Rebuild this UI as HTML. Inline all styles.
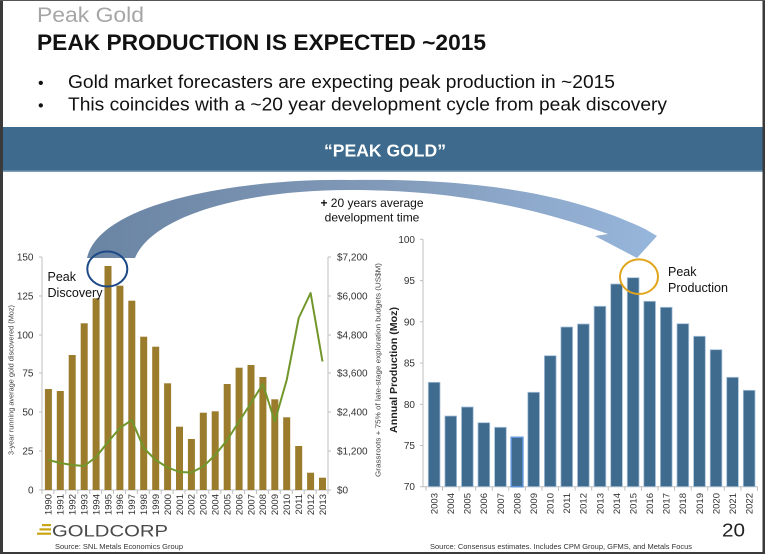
<!DOCTYPE html>
<html><head><meta charset="utf-8"><style>
html,body{margin:0;padding:0;background:#fff;}
svg{display:block;font-family:"Liberation Sans",Arial,sans-serif;}
</style></head><body>
<svg width="765" height="554" viewBox="0 0 765 554" xmlns="http://www.w3.org/2000/svg">
<defs>
<linearGradient id="ag" x1="87" y1="0" x2="657" y2="0" gradientUnits="userSpaceOnUse">
<stop offset="0" stop-color="#6a84a3"/><stop offset="0.5" stop-color="#8199b8"/><stop offset="1" stop-color="#97b6db"/>
</linearGradient>
</defs>
<rect x="0" y="0" width="765" height="554" fill="#fff"/>
<!-- frame -->
<rect x="0" y="0" width="3" height="554" fill="#3a3a3a"/>
<rect x="762.5" y="0" width="2.5" height="554" fill="#3a3a3a"/>
<rect x="0" y="0" width="765" height="1" fill="#555"/>
<rect x="0" y="552" width="765" height="2" fill="#3a3a3a"/>

<!-- header -->
<text x="37" y="22" font-size="21" fill="#a6a6a6" textLength="107" lengthAdjust="spacingAndGlyphs">Peak Gold</text>
<text x="37" y="50" font-size="22" font-weight="bold" fill="#111" textLength="449" lengthAdjust="spacingAndGlyphs">PEAK PRODUCTION IS EXPECTED ~2015</text>
<text x="38" y="88" font-size="16" fill="#111">•</text>
<text x="68" y="88" font-size="18" fill="#111" textLength="547" lengthAdjust="spacingAndGlyphs">Gold market forecasters are expecting peak production in ~2015</text>
<text x="38" y="110.5" font-size="16" fill="#111">•</text>
<text x="68" y="110.5" font-size="18" fill="#111" textLength="599" lengthAdjust="spacingAndGlyphs">This coincides with a ~20 year development cycle from peak discovery</text>

<!-- band -->
<rect x="3" y="127" width="759.5" height="44" fill="#3e6b8d"/>
<rect x="3" y="170.5" width="759.5" height="1.5" fill="#7f9fb9"/>
<text x="385" y="156.5" font-size="17.5" font-weight="bold" fill="#fff" text-anchor="middle" textLength="122" lengthAdjust="spacingAndGlyphs">“PEAK GOLD”</text>

<!-- arrow -->
<path d="M 87,258 C 100,200 250,178 350,180 C 480,178 575,195 645,229 L 657,236 L 637,258 L 595,236 L 608,234 C 530,206 450,190 350,190 C 240,190 152,217 135,258 Z" fill="url(#ag)"/>
<text x="372" y="207" font-size="12" fill="#111" text-anchor="middle"><tspan font-weight="bold">+</tspan> 20 years average</text>
<text x="372" y="221.5" font-size="12" fill="#111" text-anchor="middle">development time</text>

<!-- LEFT CHART -->
<g stroke="#bfbfbf" stroke-width="1" fill="none">
<line x1="42" y1="257" x2="42" y2="490"/>
<line x1="328" y1="257" x2="328" y2="490"/>
<line x1="42" y1="490" x2="328" y2="490"/>
<line x1="39" y1="257" x2="42" y2="257"/><line x1="39" y1="296" x2="42" y2="296"/><line x1="39" y1="335" x2="42" y2="335"/><line x1="39" y1="373" x2="42" y2="373"/><line x1="39" y1="412" x2="42" y2="412"/><line x1="39" y1="451" x2="42" y2="451"/><line x1="39" y1="490" x2="42" y2="490"/>
<line x1="328" y1="257" x2="331" y2="257"/><line x1="328" y1="296" x2="331" y2="296"/><line x1="328" y1="335" x2="331" y2="335"/><line x1="328" y1="373" x2="331" y2="373"/><line x1="328" y1="412" x2="331" y2="412"/><line x1="328" y1="451" x2="331" y2="451"/><line x1="328" y1="490" x2="331" y2="490"/>
</g>
<g stroke="#bfbfbf" stroke-width="1">
<line x1="42" y1="490" x2="42" y2="494"/><line x1="53.9" y1="490" x2="53.9" y2="494"/><line x1="65.8" y1="490" x2="65.8" y2="494"/><line x1="77.8" y1="490" x2="77.8" y2="494"/><line x1="89.7" y1="490" x2="89.7" y2="494"/><line x1="101.6" y1="490" x2="101.6" y2="494"/><line x1="113.5" y1="490" x2="113.5" y2="494"/><line x1="125.4" y1="490" x2="125.4" y2="494"/><line x1="137.3" y1="490" x2="137.3" y2="494"/><line x1="149.3" y1="490" x2="149.3" y2="494"/><line x1="161.2" y1="490" x2="161.2" y2="494"/><line x1="173.1" y1="490" x2="173.1" y2="494"/><line x1="185" y1="490" x2="185" y2="494"/><line x1="196.9" y1="490" x2="196.9" y2="494"/><line x1="208.8" y1="490" x2="208.8" y2="494"/><line x1="220.8" y1="490" x2="220.8" y2="494"/><line x1="232.7" y1="490" x2="232.7" y2="494"/><line x1="244.6" y1="490" x2="244.6" y2="494"/><line x1="256.5" y1="490" x2="256.5" y2="494"/><line x1="268.4" y1="490" x2="268.4" y2="494"/><line x1="280.3" y1="490" x2="280.3" y2="494"/><line x1="292.3" y1="490" x2="292.3" y2="494"/><line x1="304.2" y1="490" x2="304.2" y2="494"/><line x1="316.1" y1="490" x2="316.1" y2="494"/><line x1="328" y1="490" x2="328" y2="494"/>
</g>
<g font-size="10" fill="#333" text-anchor="end">
<text x="33.5" y="260.5">150</text><text x="33.5" y="299.5">125</text><text x="33.5" y="338.5">100</text><text x="33.5" y="376.5">75</text><text x="33.5" y="415.5">50</text><text x="33.5" y="454.5">25</text><text x="33.5" y="493.5">0</text>
</g>
<g font-size="10" fill="#333">
<text x="337" y="260.5">$7,200</text><text x="337" y="299.5">$6,000</text><text x="337" y="338.5">$4,800</text><text x="337" y="376.5">$3,600</text><text x="337" y="415.5">$2,400</text><text x="337" y="454.5">$1,200</text><text x="337" y="493.5">$0</text>
</g>
<text transform="translate(13.5,380) rotate(-90)" font-size="7" fill="#444" text-anchor="middle" textLength="150" lengthAdjust="spacingAndGlyphs">3-year running average gold discovered (Moz)</text>
<text transform="translate(380.5,370) rotate(-90)" font-size="7" fill="#444" text-anchor="middle" textLength="214" lengthAdjust="spacingAndGlyphs">Grassroots + 75% of late-stage exploration budgets (US$M)</text>

<g fill="#9b7b2c">
<rect x="44.9" y="389" width="7" height="101"/>
<rect x="56.8" y="391" width="7" height="99"/>
<rect x="68.7" y="355" width="7" height="135"/>
<rect x="80.7" y="323.3" width="7" height="166.7"/>
<rect x="92.6" y="298.3" width="7" height="191.7"/>
<rect x="104.5" y="266" width="7" height="224"/>
<rect x="116.4" y="285.7" width="7" height="204.3"/>
<rect x="128.3" y="300.7" width="7" height="189.3"/>
<rect x="140.2" y="336.7" width="7" height="153.3"/>
<rect x="152.2" y="346.7" width="7" height="143.3"/>
<rect x="164.1" y="383.3" width="7" height="106.7"/>
<rect x="176" y="426.7" width="7" height="63.3"/>
<rect x="187.9" y="439" width="7" height="51"/>
<rect x="199.8" y="412.7" width="7" height="77.3"/>
<rect x="211.7" y="411.3" width="7" height="78.7"/>
<rect x="223.7" y="384" width="7" height="106"/>
<rect x="235.6" y="367.7" width="7" height="122.3"/>
<rect x="247.5" y="365" width="7" height="125"/>
<rect x="259.4" y="377" width="7" height="113"/>
<rect x="271.3" y="399.3" width="7" height="90.7"/>
<rect x="283.2" y="417.3" width="7" height="72.7"/>
<rect x="295.2" y="446" width="7" height="44"/>
<rect x="307.1" y="472.7" width="7" height="17.3"/>
<rect x="319" y="477.7" width="7" height="12.3"/>
</g>
<polyline fill="none" stroke="#71972b" stroke-width="2" stroke-linejoin="round" points="48.4,460 60.3,463 72.2,465 84.2,466 96.1,457 108,442 119.9,428 131.8,420 143.7,448 155.7,460 167.6,467.5 179.5,472 191.4,472.5 203.3,466.5 215.2,455 227.2,440 239.1,421.5 251,403 262.9,384 274.8,421.5 286.7,380 298.7,318 310.6,293 322.5,361.5"/>

<g font-size="9.5" fill="#333" text-anchor="end">
<text transform="translate(51.7,494) rotate(-90)">1990</text>
<text transform="translate(63.6,494) rotate(-90)">1991</text>
<text transform="translate(75.5,494) rotate(-90)">1992</text>
<text transform="translate(87.5,494) rotate(-90)">1993</text>
<text transform="translate(99.4,494) rotate(-90)">1994</text>
<text transform="translate(111.3,494) rotate(-90)">1995</text>
<text transform="translate(123.2,494) rotate(-90)">1996</text>
<text transform="translate(135.1,494) rotate(-90)">1997</text>
<text transform="translate(147,494) rotate(-90)">1998</text>
<text transform="translate(159,494) rotate(-90)">1999</text>
<text transform="translate(170.9,494) rotate(-90)">2000</text>
<text transform="translate(182.8,494) rotate(-90)">2001</text>
<text transform="translate(194.7,494) rotate(-90)">2002</text>
<text transform="translate(206.6,494) rotate(-90)">2003</text>
<text transform="translate(218.5,494) rotate(-90)">2004</text>
<text transform="translate(230.5,494) rotate(-90)">2005</text>
<text transform="translate(242.4,494) rotate(-90)">2006</text>
<text transform="translate(254.3,494) rotate(-90)">2007</text>
<text transform="translate(266.2,494) rotate(-90)">2008</text>
<text transform="translate(278.1,494) rotate(-90)">2009</text>
<text transform="translate(290,494) rotate(-90)">2010</text>
<text transform="translate(302,494) rotate(-90)">2011</text>
<text transform="translate(313.9,494) rotate(-90)">2012</text>
<text transform="translate(325.8,494) rotate(-90)">2013</text>
</g>

<text x="47.5" y="281" font-size="12.5" fill="#111">Peak</text>
<text x="47.5" y="297" font-size="12.5" fill="#111" textLength="55" lengthAdjust="spacingAndGlyphs">Discovery</text>
<ellipse cx="107.3" cy="269" rx="20" ry="17.5" fill="none" stroke="#1d4a86" stroke-width="2"/>

<!-- RIGHT CHART -->
<g stroke="#bfbfbf" stroke-width="1">
<line x1="423" y1="239.3" x2="423" y2="486.7"/>
<line x1="423" y1="486.7" x2="757.5" y2="486.7"/>
<line x1="420" y1="239.3" x2="423" y2="239.3"/><line x1="420" y1="280.6" x2="423" y2="280.6"/><line x1="420" y1="321.8" x2="423" y2="321.8"/><line x1="420" y1="363" x2="423" y2="363"/><line x1="420" y1="404.3" x2="423" y2="404.3"/><line x1="420" y1="445.5" x2="423" y2="445.5"/><line x1="420" y1="486.7" x2="423" y2="486.7"/>
<line x1="425.9" y1="486.7" x2="425.9" y2="490.7"/><line x1="442.5" y1="486.7" x2="442.5" y2="490.7"/><line x1="459.1" y1="486.7" x2="459.1" y2="490.7"/><line x1="475.6" y1="486.7" x2="475.6" y2="490.7"/><line x1="492.2" y1="486.7" x2="492.2" y2="490.7"/><line x1="508.8" y1="486.7" x2="508.8" y2="490.7"/><line x1="525.4" y1="486.7" x2="525.4" y2="490.7"/><line x1="542" y1="486.7" x2="542" y2="490.7"/><line x1="558.5" y1="486.7" x2="558.5" y2="490.7"/><line x1="575.1" y1="486.7" x2="575.1" y2="490.7"/><line x1="591.7" y1="486.7" x2="591.7" y2="490.7"/><line x1="608.3" y1="486.7" x2="608.3" y2="490.7"/><line x1="624.9" y1="486.7" x2="624.9" y2="490.7"/><line x1="641.4" y1="486.7" x2="641.4" y2="490.7"/><line x1="658" y1="486.7" x2="658" y2="490.7"/><line x1="674.6" y1="486.7" x2="674.6" y2="490.7"/><line x1="691.2" y1="486.7" x2="691.2" y2="490.7"/><line x1="707.8" y1="486.7" x2="707.8" y2="490.7"/><line x1="724.3" y1="486.7" x2="724.3" y2="490.7"/><line x1="740.9" y1="486.7" x2="740.9" y2="490.7"/><line x1="757.5" y1="486.7" x2="757.5" y2="490.7"/>
</g>
<g font-size="10" fill="#333" text-anchor="end">
<text x="415" y="242.8">100</text><text x="415" y="284.1">95</text><text x="415" y="325.3">90</text><text x="415" y="366.5">85</text><text x="415" y="407.8">80</text><text x="415" y="449">75</text><text x="415" y="490.2">70</text>
</g>
<text transform="translate(397,370) rotate(-90)" font-size="10" font-weight="bold" fill="#222" text-anchor="middle" textLength="126" lengthAdjust="spacingAndGlyphs">Annual Production (Moz)</text>

<g fill="#3f6b8e" stroke="#a8c1da" stroke-width="0.8">
<rect x="428.3" y="382.3" width="11.7" height="104.4"/>
<rect x="444.9" y="416" width="11.7" height="70.7"/>
<rect x="461.5" y="407" width="11.7" height="79.7"/>
<rect x="478" y="422.7" width="11.7" height="64"/>
<rect x="494.6" y="427.3" width="11.7" height="59.4"/>
<rect x="527.8" y="392.3" width="11.7" height="94.4"/>
<rect x="544.4" y="355.7" width="11.7" height="131"/>
<rect x="560.9" y="327" width="11.7" height="159.7"/>
<rect x="577.5" y="324" width="11.7" height="162.7"/>
<rect x="594.1" y="306.3" width="11.7" height="180.4"/>
<rect x="610.7" y="284" width="11.7" height="202.7"/>
<rect x="627.3" y="277.7" width="11.7" height="209"/>
<rect x="643.8" y="301.3" width="11.7" height="185.4"/>
<rect x="660.4" y="307.3" width="11.7" height="179.4"/>
<rect x="677" y="323.7" width="11.7" height="163"/>
<rect x="693.6" y="336.3" width="11.7" height="150.4"/>
<rect x="710.2" y="349.7" width="11.7" height="137"/>
<rect x="726.7" y="377.3" width="11.7" height="109.4"/>
<rect x="743.3" y="390.3" width="11.7" height="96.4"/>
</g>
<rect x="511.2" y="437.3" width="11.7" height="49.4" fill="#3f6b8e" stroke="#5d93d8" stroke-width="1.5"/>

<g font-size="9.5" fill="#333" text-anchor="end">
<text transform="translate(437.5,493) rotate(-90)">2003</text>
<text transform="translate(454.1,493) rotate(-90)">2004</text>
<text transform="translate(470.7,493) rotate(-90)">2005</text>
<text transform="translate(487.2,493) rotate(-90)">2006</text>
<text transform="translate(503.8,493) rotate(-90)">2007</text>
<text transform="translate(520.4,493) rotate(-90)">2008</text>
<text transform="translate(537,493) rotate(-90)">2009</text>
<text transform="translate(553.6,493) rotate(-90)">2010</text>
<text transform="translate(570.1,493) rotate(-90)">2011</text>
<text transform="translate(586.7,493) rotate(-90)">2012</text>
<text transform="translate(603.3,493) rotate(-90)">2013</text>
<text transform="translate(619.9,493) rotate(-90)">2014</text>
<text transform="translate(636.5,493) rotate(-90)">2015</text>
<text transform="translate(653,493) rotate(-90)">2016</text>
<text transform="translate(669.6,493) rotate(-90)">2017</text>
<text transform="translate(686.2,493) rotate(-90)">2018</text>
<text transform="translate(702.8,493) rotate(-90)">2019</text>
<text transform="translate(719.4,493) rotate(-90)">2020</text>
<text transform="translate(735.9,493) rotate(-90)">2021</text>
<text transform="translate(752.5,493) rotate(-90)">2022</text>
</g>

<text x="668" y="276" font-size="12.5" fill="#111">Peak</text>
<text x="668" y="292" font-size="12.5" fill="#111" textLength="60" lengthAdjust="spacingAndGlyphs">Production</text>
<ellipse cx="639" cy="276.7" rx="19" ry="17.3" fill="none" stroke="#e1a51c" stroke-width="2"/>

<!-- footer -->
<rect x="42" y="524" width="9" height="2.2" fill="#c9a414"/>
<rect x="39.5" y="528.3" width="11.5" height="2.2" fill="#c9a414"/>
<rect x="37" y="532.6" width="14" height="2.2" fill="#c9a414"/>
<text x="52" y="536.5" font-size="17" fill="#4a4a4a" textLength="116" lengthAdjust="spacingAndGlyphs">GOLDCORP</text>
<text x="55" y="549" font-size="7.5" fill="#333" textLength="128" lengthAdjust="spacingAndGlyphs">Source: SNL Metals Economics Group</text>
<text x="430" y="549" font-size="7.5" fill="#333" textLength="262" lengthAdjust="spacingAndGlyphs">Source: Consensus estimates.  Includes CPM Group, GFMS, and Metals Focus</text>
<text x="722" y="536.5" font-size="18" fill="#222" textLength="23" lengthAdjust="spacingAndGlyphs">20</text>
</svg>
</body></html>
